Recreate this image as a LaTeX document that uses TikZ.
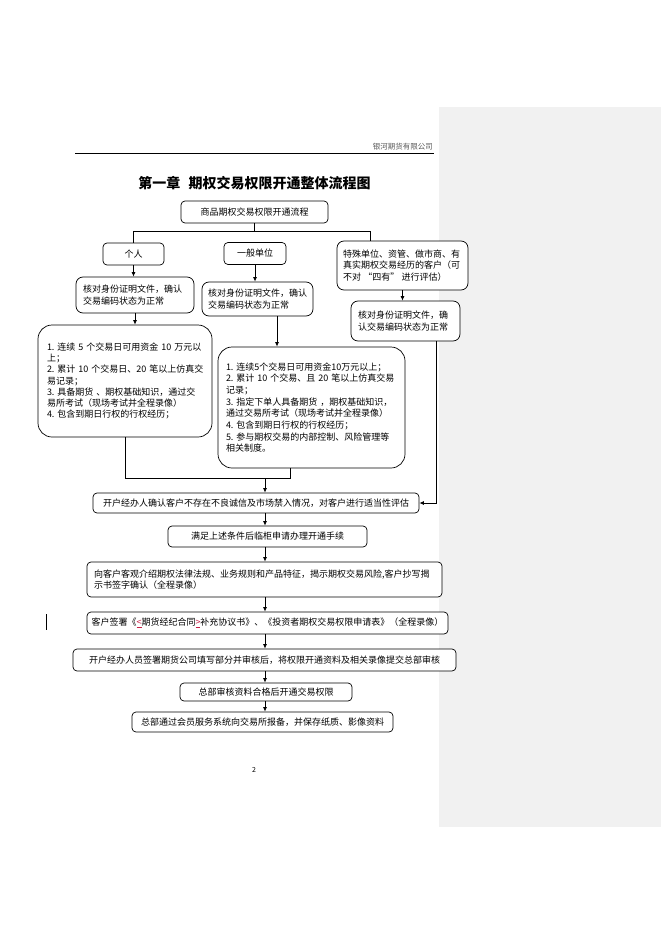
\documentclass[tikz,border=0pt]{standalone}
\usepackage{fontspec}
\setmainfont{Noto Sans CJK SC}
\usetikzlibrary{arrows.meta}
\definecolor{band}{HTML}{F1F1F1}
\definecolor{trk}{RGB}{200,30,70}
\tikzset{
  box/.style={draw, line width=0.7pt, rounded corners=4pt, fill=white, inner sep=0pt,
              font=\fontsize{9}{11.2}\selectfont, align=center},
  mbox/.style={box, rounded corners=7pt, align=left},
  bigbox/.style={box, rounded corners=14pt, align=left},
  arr/.style={line width=0.7pt, -{Latex[length=4.5pt,width=3.8pt]}},
  ln/.style={line width=0.7pt}
}
\begin{document}
\begin{tikzpicture}[x=1pt,y=-1pt]
\useasboundingbox (0,0) rectangle (662,936);
\fill[band] (439,107) rectangle (661,827);

% header
\node[anchor=east, font=\fontsize{7.5}{9}\selectfont, text=black!65, inner sep=0pt] (hdr) at (433,147) {银河期货有限公司};
\draw[line width=1pt] (75,154) -- (434,154);
\node[font=\fontsize{14}{16}\selectfont\bfseries, inner sep=0pt] (title) at (254.5,183) {第一章\hspace{0.6em}期权交易权限开通整体流程图};

% top
\node[box, minimum width=147, minimum height=22] (top) at (254.5,212) {商品期权交易权限开通流程};

% branches
\node[box, minimum width=61, minimum height=22] (geren) at (133.5,254) {个人};
\node[box, minimum width=62, minimum height=22] (yiban) at (255,253.5) {一般单位};
\node[mbox, minimum width=131, minimum height=49, text width=119] (special) at (402.5,265.5)
  {特殊单位、资管、做市商、有\\真实期权交易经历的客户（可\\不对\hspace{0.25em}“四有”\hspace{0.25em}进行评估）};

\coordinate (jc) at (254.5,231);
\coordinate (jl) at (133.5,231);
\coordinate (jr) at (370,231);
\draw[ln] (top.south) -- (jc);
\draw[ln] (jl) -- (jr);
\draw[ln] (jl) -- (geren.north);
\draw[ln] (jr) -- (jr |- special.north);

% verification boxes
\node[mbox, minimum width=118, minimum height=36, text width=104] (h1) at (135,295)
  {核对身份证明文件，确认\\交易编码状态为正常};
\node[mbox, minimum width=111, minimum height=34, text width=99] (h2) at (257.5,299)
  {核对身份证明文件，确认\\交易编码状态为正常};
\node[mbox, minimum width=109, minimum height=40, text width=95] (h3) at (405.5,321)
  {核对身份证明文件，确\\认交易编码状态为正常};

\draw[arr] (geren.south) -- (geren.south |- h1.north);
\draw[arr] (yiban.south) -- (yiban.south |- h2.north);
\draw[arr] (special.south) -- (special.south |- h3.north);

% big boxes
\node[bigbox, minimum width=174, minimum height=112, text width=156] (L) at (125,381)
  {1.~连续~5~个交易日可用资金~10~万元以\\上；\\2.~累计~10~个交易日、20~笔以上仿真交\\易记录；\\3.~具备期货~、期权基础知识，通过交\\易所考试（现场考试并全程录像）\\4.~包含到期日行权的行权经历；};
\node[bigbox, minimum width=187, minimum height=121, text width=171, font=\fontsize{9}{11.7}\selectfont] (M) at (311.5,407.5)
  {1.~连续5个交易日可用资金10万元以上；\\2.~累计~10~个交易、且~20~笔以上仿真交易\\记录；\\3.~指定下单人具备期货~，期权基础知识，\\通过交易所考试（现场考试并全程录像）\\4.~包含到期日行权的行权经历；\\5.~参与期权交易的内部控制、风险管理等\\相关制度。};

\draw[arr] (h1.south) -- (h1.south |- L.north);
\coordinate (hm) at (277,0);
\draw[arr] (h2.south -| hm) -- (M.north -| hm);

% merge
\coordinate (ml) at (125,478);
\coordinate (mr) at (290,478);
\coordinate (mc) at (265,478);
\draw[ln] (L.south) -- (ml) -- (mr) -- (M.south -| mr);

% sequence
\node[box, minimum width=326, minimum height=20] (s1) at (256,503)
  {开户经办人确认客户不存在不良诚信及市场禁入情况，对客户进行适当性评估};
\node[box, minimum width=199, minimum height=21] (s2) at (267.5,536.5)
  {满足上述条件后临柜申请办理开通手续};
\node[box, align=left, minimum width=355, minimum height=35, text width=341] (s3) at (264.5,579.5)
  {向客户客观介绍期权法律法规、业务规则和产品特征，揭示期权交易风险,客户抄写揭\\示书签字确认（全程录像）};
\node[box, minimum width=361, minimum height=22] (s4) at (267.5,623)
  {客户签署《\textcolor{trk}{\underline{<}}期货经纪合同\textcolor{trk}{\underline{>}}补充协议书》、《投资者期权交易权限申请表》（全程录像）};
\node[box, minimum width=383, minimum height=22] (s5) at (264.5,660)
  {开户经办人员签署期货公司填写部分并审核后，将权限开通资料及相关录像提交总部审核};
\node[box, minimum width=172, minimum height=18] (s6) at (266,692)
  {总部审核资料合格后开通交易权限};
\node[box, minimum width=261, minimum height=20] (s7) at (262.5,722)
  {总部通过会员服务系统向交易所报备，并保存纸质、影像资料};

\coordinate (cx) at (265,0);
\draw[arr] (mc) -- (s1.north -| cx);
\draw[arr] (h3.south -| 436,0) |- (s1.east);
\draw[arr] (s1.south -| cx) -- (s2.north -| cx);
\draw[arr] (s2.south -| cx) -- (s3.north -| cx);
\draw[arr] (s3.south -| cx) -- (s4.north -| cx);
\draw[arr] (s4.south -| cx) -- (s5.north -| cx);
\draw[arr] (s5.south -| cx) -- (s6.north -| cx);
\draw[arr] (s6.south -| cx) -- (s7.north -| cx);

% margin bar and page number
\draw[line width=0.8pt] (46,614) -- (46,630);
\node[font=\fontsize{7}{8}\selectfont, inner sep=0pt] (pg) at (254,770) {2};
\end{tikzpicture}
\end{document}
